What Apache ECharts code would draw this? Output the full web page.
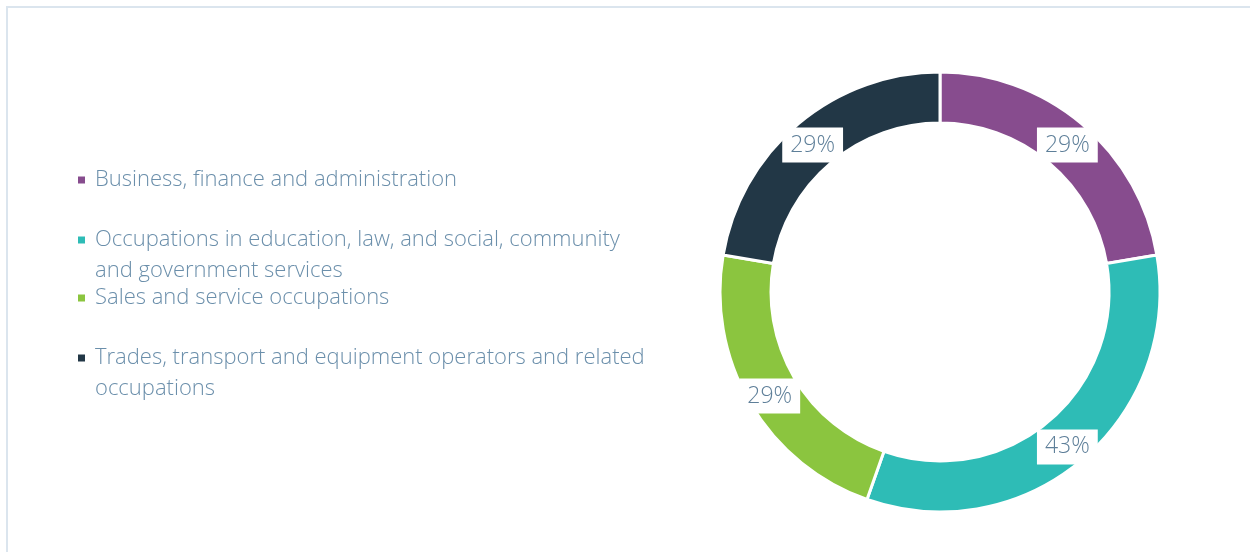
<!DOCTYPE html>
<html>
<head>
<meta charset="utf-8">
<script src="https://cdn.jsdelivr.net/npm/echarts@6/dist/echarts.min.js"></script>
<style>
  html, body { margin: 0; padding: 0; background: #fff; }
  #frame { position: absolute; left: 6px; top: 6px; width: 1244px; height: 546px;
           border-top: 2px solid #dbe5ee; border-left: 2px solid #dbe5ee; }
  #main { position: absolute; left: 0; top: 0; width: 1250px; height: 552px; }
</style>
</head>
<body>
<div id="frame"></div>
<div id="main"></div>
<script>
// categories and values (labels show value as %)
const categories = [
  'Business, finance and administration',
  'Occupations in education, law, and social, community and government services',
  'Sales and service occupations',
  'Trades, transport and equipment operators and related occupations'
];
const legendLines = [
  ['Business, finance and administration'],
  ['Occupations in education, law, and social, community', 'and government services'],
  ['Sales and service occupations'],
  ['Trades, transport and equipment operators and related', 'occupations']
];
const values = [29, 43, 29, 29];
const colors = ['#874c8e', '#2ebcb6', '#8bc53f', '#223746'];
// y of the first text line for each legend entry
const legendY = [180, 240, 298, 358];

const LH = 31;
const FONT = '"Open Sans", "Segoe UI", sans-serif';

let myChart = echarts.init(document.getElementById('main'));

let legends = categories.map(function (name, i) {
  let lines = legendLines[i];
  // pad with a blank line on top so the icon lines up with the first line
  let nLines = lines.length === 1 ? 1 : (2 * lines.length - 1);
  return {
    data: [name],
    orient: 'vertical',
    left: 76,
    top: legendY[i] - nLines * LH / 2,
    padding: 0,
    icon: 'rect',
    itemWidth: 9,
    itemHeight: 9,
    itemGap: 0,
    selectedMode: false,
    formatter: function () {
      if (lines.length === 1) return lines[0];
      return '\n' + lines.join('\n');
    },
    textStyle: {
      fontFamily: FONT,
      fontWeight: 300,
      fontSize: 22,
      lineHeight: LH,
      color: '#6b8fab',
      padding: [0, 0, 0, 4]
    }
  };
});

let option = {
  backgroundColor: 'transparent',
  color: colors,
  legend: legends,
  series: [
    {
      type: 'pie',
      center: [940, 292],
      radius: [169, 220],
      startAngle: 90,
      clockwise: true,
      avoidLabelOverlap: false,
      silent: true,
      itemStyle: {
        borderColor: '#ffffff',
        borderWidth: 3
      },
      label: {
        show: true,
        position: 'inside',
        formatter: '{c}%',
        fontFamily: FONT,
        fontWeight: 300,
        fontSize: 23,
        color: '#5e7f99',
        backgroundColor: '#ffffff',
        padding: [6, 8, 6, 8],
        offset: [0, 4]
      },
      labelLine: { show: false },
      data: categories.map(function (c, i) {
        return { name: c, value: values[i] };
      })
    }
  ]
};

if (option && typeof option === 'object') {
  myChart.setOption(option, true);
}
</script>
</body>
</html>
